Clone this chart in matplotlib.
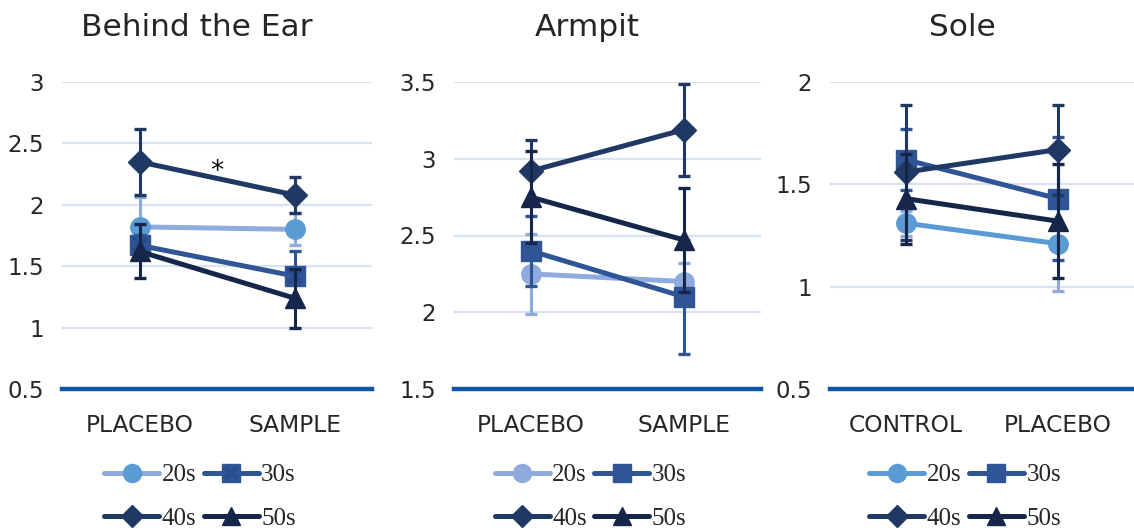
import matplotlib
matplotlib.use('Agg')
import matplotlib.pyplot as plt
from matplotlib.lines import Line2D

# ---- data ----
titles = ['Behind the Ear', 'Armpit', 'Sole']
categories = [['PLACEBO', 'SAMPLE'], ['PLACEBO', 'SAMPLE'], ['CONTROL', 'PLACEBO']]
series = ['20s', '30s', '40s', '50s']

ear_mean = [[1.82, 1.80], [1.67, 1.42], [2.35, 2.08], [1.62, 1.24]]
ear_err = [[0.24, 0.13], [0.08, 0.20], [0.27, 0.15], [0.22, 0.24]]
armpit_mean = [[2.25, 2.20], [2.40, 2.10], [2.92, 3.19], [2.75, 2.47]]
armpit_err = [[0.26, 0.12], [0.23, 0.37], [0.20, 0.30], [0.30, 0.34]]
sole_mean = [[1.31, 1.21], [1.62, 1.43], [1.56, 1.67], [1.43, 1.32]]
sole_err = [[0.06, 0.23], [0.15, 0.30], [0.33, 0.22], [0.22, 0.28]]

means = [ear_mean, armpit_mean, sole_mean]
errs = [ear_err, armpit_err, sole_err]
ylims = [(0.5, 3.0), (1.5, 3.5), (0.5, 2.0)]
yticks = [[0.5, 1, 1.5, 2, 2.5, 3], [1.5, 2, 2.5, 3, 3.5], [0.5, 1, 1.5, 2]]
ytick_labels = [['0.5', '1', '1.5', '2', '2.5', '3'], ['1.5', '2', '2.5', '3', '3.5'],
                ['0.5', '1', '1.5', '2']]

# ---- styles ----
light = '#8FAADC'
mid = '#5B9BD5'
c30 = '#2F5597'
c40 = '#203864'
c50 = '#16264A'
line_cols = [[light, c30, c40, c50], [light, c30, c40, c50], [mid, c30, c40, c50]]
mark_cols = [[mid, c30, c40, c50], [light, c30, c40, c50], [mid, c30, c40, c50]]
err_cols = [[light, c30, c40, c50], [light, c30, c40, c50], [light, c30, c40, c50]]
markers = ['o', 's', 'D', '^']
msizes = [14, 14, 12, 14]
grid_col = '#D9E2F3'
base_col = '#0B56A5'
txt_col = '#262626'

W, H = 1134, 530
fig = plt.figure(figsize=(W / 100, H / 100), dpi=100)
panels_px = [(62, 372), (454, 761), (830, 1134)]
top_px, bot_px = 82, 389

for p in range(3):
    x0, x1 = panels_px[p]
    ax = fig.add_axes([x0 / W, 1 - bot_px / H, (x1 - x0) / W, (bot_px - top_px) / H])
    ax.set_xlim(-0.5, 1.5)
    ax.set_ylim(*ylims[p])
    for s in ax.spines.values():
        s.set_visible(False)
    for yv in yticks[p][1:]:
        ax.axhline(yv, color=grid_col, lw=1.6, zorder=0)
    ax.axhline(ylims[p][0], color=base_col, lw=3.2, zorder=1, clip_on=False)
    ax.set_yticks(yticks[p])
    ax.set_yticklabels(ytick_labels[p])
    ax.set_xticks([0, 1])
    ax.set_xticklabels(categories[p])
    ax.tick_params(axis='y', length=0, pad=13, labelsize=16.5, labelcolor=txt_col)
    ax.tick_params(axis='x', length=0, pad=18, labelsize=16.8, labelcolor=txt_col)
    cx = (x0 + x1) / 2 - 20
    fig.text(cx / W, 1 - 27 / H, titles[p], ha='center', va='center', fontsize=22.5,
             color=txt_col)

    xs = [0, 1]
    handles = []
    for i in range(4):
        z = 3 + i
        ax.errorbar(xs, means[p][i], yerr=errs[p][i], fmt='none', ecolor=err_cols[p][i],
                    elinewidth=2.2, capsize=4.5, capthick=2.4, zorder=z, clip_on=False)
        ax.plot(xs, means[p][i], color=line_cols[p][i], lw=3.6, marker=markers[i],
                ms=msizes[i], mfc=mark_cols[p][i], mec=mark_cols[p][i], zorder=z + 0.5,
                clip_on=False, solid_capstyle='round')
        h = Line2D([], [], color=line_cols[p][i], lw=3.6, marker=markers[i], ms=msizes[i] - 1,
                   mfc=mark_cols[p][i], mec=mark_cols[p][i], solid_capstyle='round')
        if p == 0 and i == 1:
            ax.plot(xs, means[p][i], ls='none', marker='x', ms=10, mew=3, color='#2A4C8C',
                    zorder=z + 0.6, clip_on=False)
            hx = Line2D([], [], ls='none', marker='x', ms=9, mew=3, color='#2A4C8C')
            h = (h, hx)
        handles.append(h)

    if p == 0:
        ax.text(0.5, 2.27, '*', ha='center', va='center', fontsize=19, color='#111111')

    # legend fills column-wise, so reorder to read 20s 30s / 40s 50s
    order = [0, 2, 1, 3]
    lx = (x0 + x1) / 2 - 17
    leg = fig.legend([handles[k] for k in order], [series[k] for k in order],
                     loc='center', ncol=2, bbox_to_anchor=(lx / W, 1 - 497 / H), frameon=False,
                     prop={'family': 'Liberation Serif', 'size': 18},
                     handlelength=2.2, handletextpad=0.1, columnspacing=0.3,
                     labelspacing=0.85, borderpad=0)
    for t in leg.get_texts():
        t.set_color(txt_col)

fig.savefig('out.png', dpi=100)
